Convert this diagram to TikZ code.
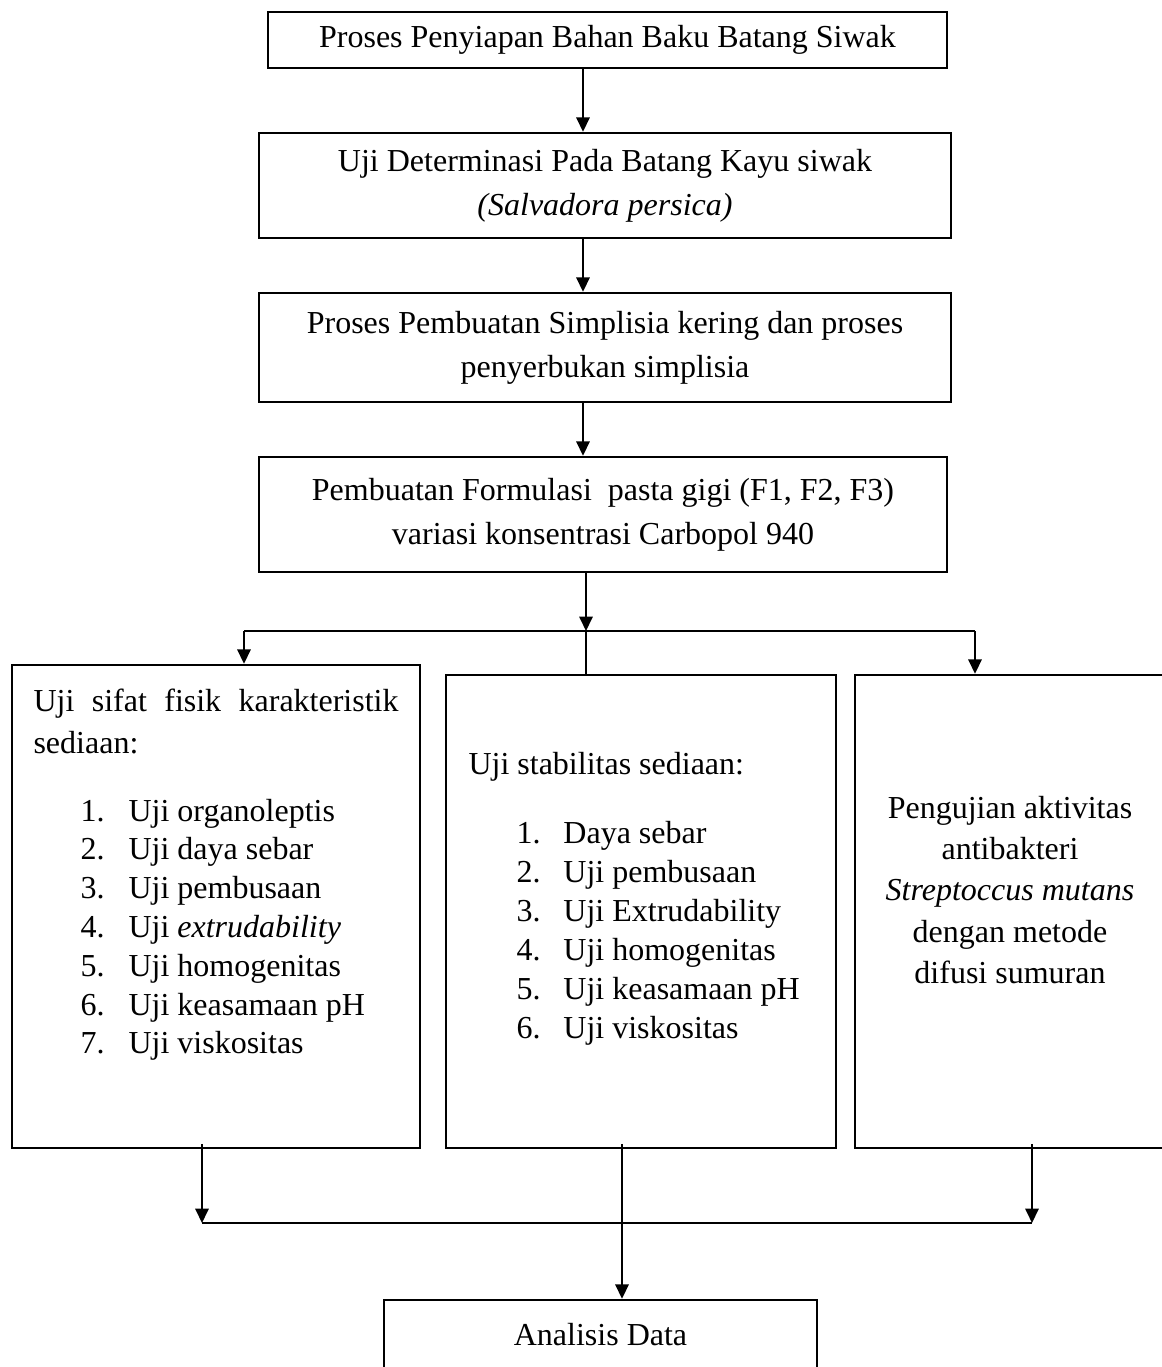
\documentclass[tikz,border=0pt]{standalone}
\usepackage{fontspec}
\setmainfont{Liberation Serif}
\usetikzlibrary{arrows.meta,positioning}
\newcommand\pxl{0.375pt}

\begin{document}
\begin{tikzpicture}[x=0.375pt,y=-0.375pt,
    font=\fontsize{12}{16.5}\selectfont,
    box/.style={draw,line width=0.9pt,inner sep=0pt,align=center},
    txt/.style={inner sep=0pt,anchor=mid west},
    arr/.style={line width=0.75pt,-{Triangle[length=5.4pt,width=5pt]}},
    link/.style={line width=0.4pt}]
\useasboundingbox (0,0) rectangle (1161,1367);

% main steps
\node[box,minimum width={679*\pxl},minimum height={56*\pxl}] (bahan) at (607.5,40)
  {Proses Penyiapan Bahan Baku Batang Siwak};
\node[box,minimum width={692*\pxl},minimum height={105*\pxl}] (determinasi) at (605,185.5)
  {Uji Determinasi Pada Batang Kayu siwak\\\textit{(Salvadora persica)}};
\node[box,minimum width={692*\pxl},minimum height={109*\pxl}] (simplisia) at (605,347.5)
  {Proses Pembuatan Simplisia kering dan proses\\penyerbukan simplisia};
\node[box,minimum width={688*\pxl},minimum height={115*\pxl}] (formulasi) at (603,514.5)
  {Pembuatan Formulasi \ pasta gigi (F1, F2, F3)\\variasi konsentrasi Carbopol 940};

% three tests
\node[box,minimum width={408*\pxl},minimum height={483*\pxl}] (fisik) at (216,906.5) {};
\node[box,minimum width={390*\pxl},minimum height={473*\pxl}] (stabilitas) at (641,911.5) {};
\node[box,minimum width={320*\pxl},minimum height={473*\pxl}] (antibakteri) at (1015,911.5) {};

\node[box,minimum width={433*\pxl},minimum height={70*\pxl}] (analisis) at (600.5,1335) {Analisis Data};

% box texts
\node[txt] (fisikhead) at (33,705) {\makebox[136.9pt][s]{Uji sifat fisik karakteristik}};
\node[txt] (fisikhead2) at (33,747) {sediaan:};
\foreach \entry [count=\i] in {Uji organoleptis, Uji daya sebar, Uji pembusaan,
    Uji \textit{extrudability}, Uji homogenitas, Uji keasamaan pH, Uji viskositas}
  \node[txt] (fisik\i) at (80,{815+38.8*(\i-1)}) {\makebox[18pt][l]{\i.}\entry};

\node[txt] (stabhead) at (468,768) {Uji stabilitas sediaan:};
\foreach \entry [count=\i] in {Daya sebar, Uji pembusaan, Uji Extrudability,
    Uji homogenitas, Uji keasamaan pH, Uji viskositas}
  \node[txt] (stab\i) at (516,{837+39*(\i-1)}) {\makebox[17.6pt][l]{\i.}\entry};

\node[inner sep=0pt,align=center,font=\fontsize{12}{15.4}\selectfont] (antitxt) at (1010,890)
  {Pengujian aktivitas\\antibakteri\\\textit{Streptoccus mutans}\\dengan metode\\difusi sumuran};

% connectors
\coordinate (spine) at (583,0);
\draw[arr] (bahan.south -| spine) -- (determinasi.north -| spine);
\draw[arr] (determinasi.south -| spine) -- (simplisia.north -| spine);
\draw[arr] (simplisia.south -| spine) -- (formulasi.north -| spine);

\coordinate (split) at (586,631);
\coordinate (splitL) at (244,631);
\coordinate (splitR) at (975,631);
\draw[arr] (formulasi.south -| split) -- (split);
\draw[link] (splitL) -- (splitR);
\draw[arr] (splitL) -- (splitL |- fisik.north);
\draw[arr] (splitR) -- (splitR |- antibakteri.north);
\draw[link] (split) -- (split |- stabilitas.north);

\coordinate (merge) at (622,1223);
\coordinate (mergeL) at (202,1223);
\coordinate (mergeR) at (1032,1223);
\draw[arr] ([yshift=2pt]mergeL |- fisik.south) -- (mergeL);
\draw[arr] ([yshift=2pt]mergeR |- antibakteri.south) -- (mergeR);
\draw[link] (mergeL) -- (mergeR);
\draw[link] ([yshift=2pt]merge |- stabilitas.south) -- (merge);
\draw[arr] (merge) -- (merge |- analisis.north);
\end{tikzpicture}
\end{document}
